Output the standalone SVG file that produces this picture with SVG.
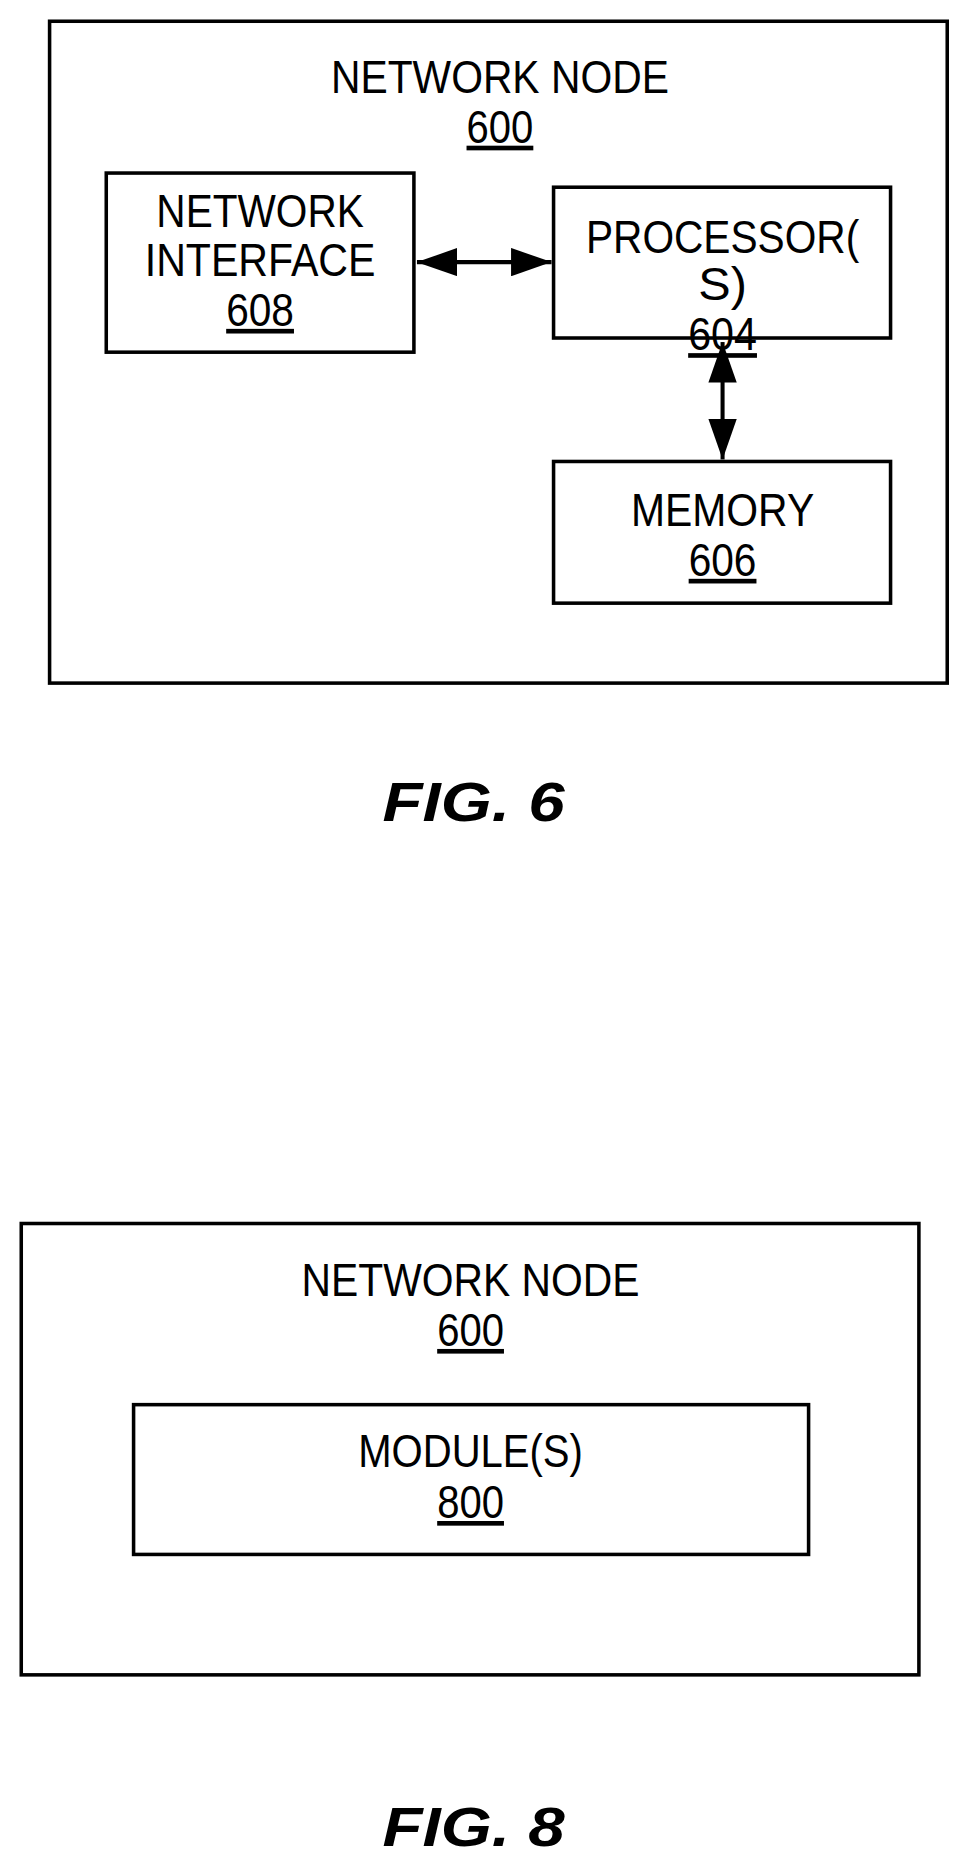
<svg xmlns="http://www.w3.org/2000/svg" width="968" height="1865" viewBox="0 0 968 1865">
<style>
rect{fill:#fff;stroke:#000;stroke-width:3.5}
text{font-family:"Liberation Sans",Arial,sans-serif;font-size:46px;text-anchor:middle;fill:#000}
.u{text-decoration:underline}
.fig{font-size:54px;font-weight:bold;font-style:italic}
.c{stroke:#000;stroke-width:4;fill:none}
</style>
<defs>
<marker id="a" viewBox="0 0 10 10" refX="10" refY="5" markerWidth="10" markerHeight="7" orient="auto-start-reverse" markerUnits="strokeWidth" preserveAspectRatio="none"><path d="M0,0L10,5L0,10z" fill="#000"/></marker>
</defs>
<g transform="scale(1.012)">
<g id="node600"><rect x="49" y="21" width="887" height="654"/>
<text x="494" y="92" textLength="334" lengthAdjust="spacingAndGlyphs">NETWORK NODE</text>
<text class="u" x="494" y="141" textLength="66" lengthAdjust="spacingAndGlyphs">600</text></g>
<g id="ni608"><rect x="105" y="171" width="304" height="177"/>
<text x="257" y="224" textLength="205" lengthAdjust="spacingAndGlyphs">NETWORK</text>
<text x="257" y="273" textLength="228" lengthAdjust="spacingAndGlyphs">INTERFACE</text>
<text class="u" x="257" y="322" textLength="67" lengthAdjust="spacingAndGlyphs">608</text></g>
<g id="proc604"><rect x="547" y="185" width="333" height="149"/>
<text x="714" y="250" textLength="270" lengthAdjust="spacingAndGlyphs">PROCESSOR(</text>
<text x="714" y="296" textLength="48" lengthAdjust="spacingAndGlyphs">S)</text>
<text class="u" x="714" y="346" textLength="68" lengthAdjust="spacingAndGlyphs">604</text></g>
<g id="mem606"><rect x="547" y="456" width="333" height="140"/>
<text x="714" y="520" textLength="181" lengthAdjust="spacingAndGlyphs">MEMORY</text>
<text class="u" x="714" y="569" textLength="67" lengthAdjust="spacingAndGlyphs">606</text></g>
<g id="connectors">
<line class="c" x1="412" y1="259" x2="545" y2="259" marker-start="url(#a)" marker-end="url(#a)"/>
<line class="c" x1="714" y1="338" x2="714" y2="454" marker-start="url(#a)" marker-end="url(#a)"/>
</g>
<text class="fig" x="468" y="811" textLength="180" lengthAdjust="spacingAndGlyphs">FIG. 6</text>
<g id="node600b"><rect x="21" y="1209" width="887" height="446"/>
<text x="465" y="1281" textLength="334" lengthAdjust="spacingAndGlyphs">NETWORK NODE</text>
<text class="u" x="465" y="1330" textLength="66" lengthAdjust="spacingAndGlyphs">600</text></g>
<g id="mod800"><rect x="132" y="1388" width="667" height="148"/>
<text x="465" y="1450" textLength="222" lengthAdjust="spacingAndGlyphs">MODULE(S)</text>
<text class="u" x="465" y="1500" textLength="66" lengthAdjust="spacingAndGlyphs">800</text></g>
<text class="fig" x="468" y="1824" textLength="180" lengthAdjust="spacingAndGlyphs">FIG. 8</text>
</g>
</svg>
